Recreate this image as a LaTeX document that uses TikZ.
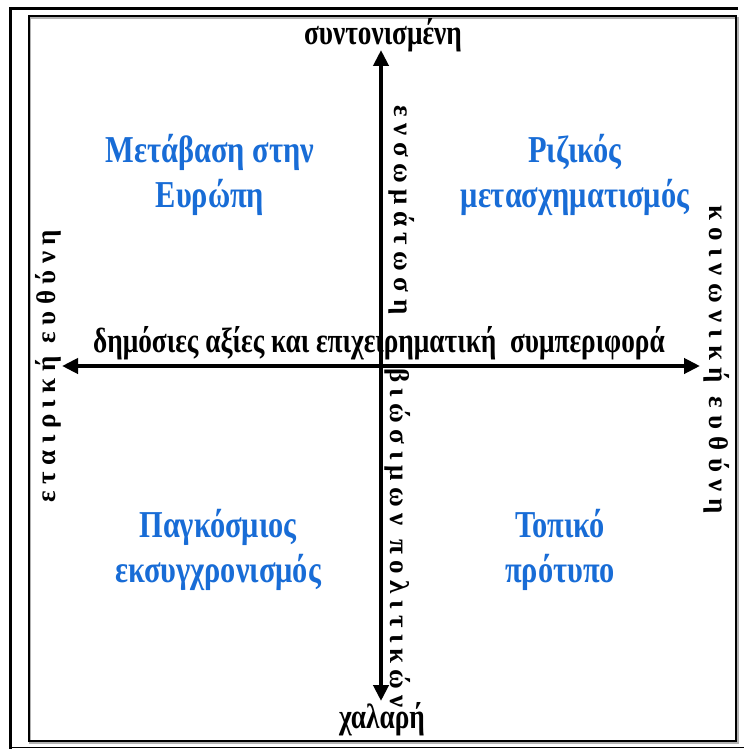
\documentclass[tikz,border=0pt]{standalone}
\usepackage{fontspec}
\setmainfont{Liberation Serif}
\newfontfamily\spaced[LetterSpace=24]{Liberation Serif}
\newfontfamily\spacedw[LetterSpace=27]{Liberation Serif}
\usetikzlibrary{arrows.meta}
\definecolor{qblue}{RGB}{24,108,214}
\newcommand{\cond}[1]{\scalebox{0.78}[1]{#1}}
\tikzset{
  axis/.style={line width=4pt, {Triangle[length=16pt,width=15pt]}-{Triangle[length=16pt,width=15pt]}},
  axlabel/.style={font=\bfseries\fontsize{35}{38}\selectfont, inner sep=0pt},
  sidelabel/.style={font=\spaced\bfseries\fontsize{27}{30}\selectfont, inner sep=0pt},
  sidelabelw/.style={font=\spacedw\bfseries\fontsize{27}{30}\selectfont, inner sep=0pt},
  quad/.style={font=\bfseries\fontsize{38}{45}\selectfont, text=qblue, align=center, inner sep=0pt, transform shape, xscale=0.8},
}
\begin{document}
\begin{tikzpicture}[x=1pt,y=-1pt]
\useasboundingbox (0,0) rectangle (744,749);
% frames
\coordinate (o1) at (10.5,8.5);
\coordinate (o2) at (738,8.5);
\coordinate (o3) at (10.5,747.5);
\coordinate (o4) at (744,747.5);
\draw[line width=3pt] (o2) -- (o1) -- (10.5,749);
\draw[line width=1.5pt] (o3) -- (o4);
\draw[gray!60, line width=2pt] (30,18) rectangle (737.5,742.5);
\draw[line width=2pt] (28.5,16.5) rectangle (736,741);
% axes
\coordinate (top) at (381,50);
\coordinate (bot) at (381,701);
\coordinate (left) at (62,366);
\coordinate (right) at (700,366);
\draw[axis] (bot) -- (top);
\draw[axis] (left) -- (right);
% axis labels
\node[axlabel] (tl) at (383,35) {\cond{συντονισμένη}};
\node[axlabel] (bl) at (382,719) {\cond{χαλαρή}};
\node[axlabel, anchor=base] (hl) at (379,352) {\cond{δημόσιες αξίες και επιχειρηματική\ \ συμπεριφορά}};
\node[sidelabel, rotate=-90] (vu) at (402,210) {ενσωμάτωση};
\node[sidelabel, rotate=-90] (vd) at (398,538) {βιώσιμων πολιτικών};
\node[sidelabel, rotate=90] (lf) at (48,366) {εταιρική ευθύνη};
\node[sidelabelw, rotate=-90] (rt) at (717,360) {κοινωνική ευθύνη};
% quadrants
\node[quad] (q1) at (210,175) {Μετάβαση στην\\Ευρώπη};
\node[quad] (q2) at (575,175) {Ριζικός\\μετασχηματισμός};
\node[quad] (q3) at (218,550) {Παγκόσμιος\\εκσυγχρονισμός};
\node[quad] (q4) at (560,550) {Τοπικό\\πρότυπο};
\end{tikzpicture}
\end{document}
